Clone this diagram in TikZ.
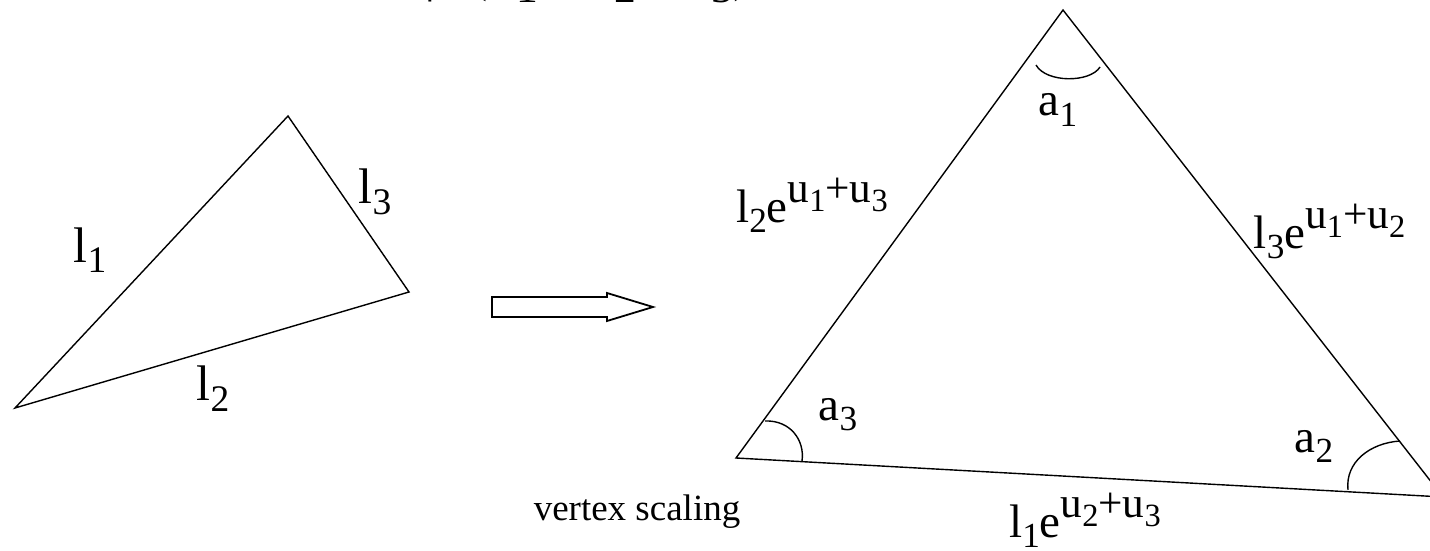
\documentclass[tikz,border=0pt]{standalone}
\usepackage{fontspec}
\usepackage{graphicx}
\setmainfont{Liberation Serif}
% lowered and raised parts of the labels
\newcommand{\low}[1]{\raisebox{-0.22em}{\scalebox{0.75}{#1}}}
\newcommand{\high}[1]{\raisebox{0.42em}{\scalebox{0.92}{#1}}}
\begin{document}
\begin{tikzpicture}[x=0.5pt, y=-0.5pt, line width=0.7pt,
    biglabel/.style={inner sep=0pt, anchor=base, font=\fontsize{25}{27}\selectfont},
    smalllabel/.style={inner sep=0pt, anchor=base, font=\fontsize{23.5}{25}\selectfont}]
    % Picture area is 1430 x 551, everything outside is cut off
    \useasboundingbox (0,0) rectangle (1430,551);
    \clip (0,0) rectangle (1430,551);

    % Line of text at the top, only its lowest part shows
    \node[anchor=base west, inner sep=0pt, font=\fontsize{29}{31}\selectfont] (toptext) at (424,-10) {|\;\;(u\low{1},\;\;u\low{2},\;\;u\low{3})};

    % Triangle before scaling
    \coordinate (v1) at (288,116);
    \coordinate (v2) at (409,292);
    \coordinate (v3) at (15,408);
    \draw (v1) -- (v2) -- (v3) -- cycle;
    \node[biglabel] (l1) at (90,262) {l\low{1}};
    \node[biglabel] (l3) at (375,204) {l\low{3}};
    \node[biglabel] (l2) at (213,400) {l\low{2}};

    % Hollow arrow between the two triangles
    \draw[line width=0.9pt] (492,297) -- (607,297) -- (607,293) -- (653,307) -- (607,321) -- (607,317) -- (492,317) -- cycle;

    % Triangle after vertex scaling (right corner lies just outside)
    \coordinate (w1) at (1063,10);
    \coordinate (w3) at (736,458);
    \coordinate (w2) at (1443,497);
    \draw (w1) -- (w2) -- (w3) -- cycle;

    % Angle marks
    \draw (1036,65) .. controls (1046,83) and (1090,83) .. (1100,67);
    \draw (765,421) .. controls (790,420) and (805,440) .. (802,461);
    \draw (1400,441) .. controls (1370,443) and (1345,462) .. (1348,490);

    % Angle and edge labels
    \node[smalllabel] (a1) at (1058,116) {a\low{1}};
    \node[smalllabel] (a3) at (838,420) {a\low{3}};
    \node[smalllabel] (a2) at (1314,452) {a\low{2}};
    \node[smalllabel] (e2) at (812,222) {l\low{2}e\high{u\low{1}+u\low{3}}};
    \node[smalllabel, anchor=base west] (e3) at (1253,248) {l\low{3}e\high{u\low{1}+u\low{2}}};
    \node[smalllabel] (e1) at (1085,537) {l\low{1}e\high{u\low{2}+u\low{3}}};

    % Caption
    \node[inner sep=0pt, anchor=base, font=\fontsize{18.5}{20}\selectfont] (caption) at (637,520) {vertex scaling};
\end{tikzpicture}
\end{document}
